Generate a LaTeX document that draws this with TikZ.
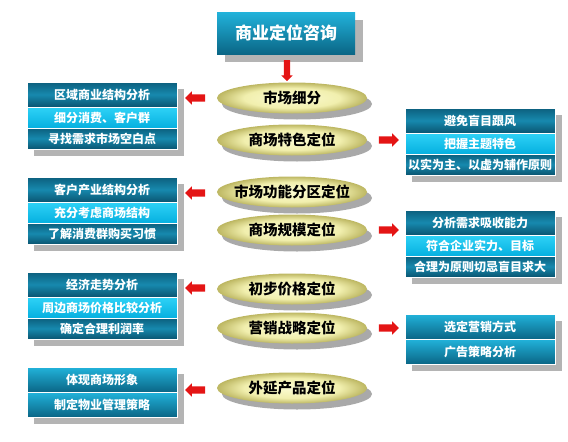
\documentclass[tikz,border=0pt]{standalone}
\usepackage{fontspec}
\newfontfamily\cjk{Noto Sans CJK SC}
\usepackage{xcolor}
\usepackage{tikz}
\usetikzlibrary{shapes,arrows,positioning,shadows}
\definecolor{tealtop}{HTML}{0C5F7D}
\definecolor{tealmid}{HTML}{1789AE}
\definecolor{tealbot}{HTML}{0A5571}
\definecolor{cyantop}{HTML}{2FD2F6}
\definecolor{cyanbot}{HTML}{05B0E0}
\definecolor{lighttop}{HTML}{22B3DB}
\definecolor{lightbot}{HTML}{0A6686}
\definecolor{ellin}{HTML}{FBFBD2}
\definecolor{ellmid}{HTML}{F1EFAE}
\definecolor{ellout}{HTML}{BDB762}
\definecolor{boxshadow}{HTML}{B4B4B4}
\definecolor{ellshadow}{HTML}{A9A9A9}
\definecolor{arrowred}{HTML}{E41515}
\pgfdeclareradialshading{ellshade}{\pgfpoint{0bp}{0bp}}{color(0bp)=(ellin); color(16bp)=(ellmid); color(25bp)=(ellout); color(50bp)=(ellout)}

\begin{document}
\begin{tikzpicture}[x=1pt,y=-1pt,
	row/.style={rectangle,minimum width=150pt,inner sep=1pt,outer sep=0pt,draw=white,line width=0.8pt,text=white,font=\cjk\bfseries\fontsize{12}{12}\selectfont,drop shadow={shadow xshift=7pt,shadow yshift=-7pt,fill=boxshadow,opacity=1}},
	rowdark/.style={row,minimum height=21pt,top color=tealtop,bottom color=tealbot,middle color=tealmid},
	rowfirst/.style={rowdark,minimum height=25pt},
	rowcyan/.style={row,minimum height=21pt,top color=cyantop,bottom color=cyanbot},
	rowlight/.style={row,minimum height=25pt,top color=lighttop,bottom color=lightbot},
	ell/.style={ellipse,minimum width=150pt,minimum height=31pt,inner sep=0pt,shading=ellshade,font=\cjk\bfseries\fontsize{14.5}{14.5}\selectfont,drop shadow={shadow xshift=5pt,shadow yshift=-6pt,fill=ellshadow,opacity=1}},
	redarrow/.style={single arrow,fill=arrowred,draw=none,minimum height=20pt,inner xsep=0pt,inner ysep=3.5pt,single arrow head extend=3pt},
	leftarrow/.style={redarrow,shape border rotate=180}]
		\useasboundingbox (0,0) rectangle (568,442);
		\node[rectangle,minimum width=138pt,minimum height=42pt,top color=lighttop,bottom color=lightbot,text=white,font=\cjk\bfseries\fontsize{17}{17}\selectfont,drop shadow={shadow xshift=8pt,shadow yshift=-8pt,fill=boxshadow,opacity=1}] (title) at (286,33) {商业定位咨询};
		\node[redarrow,shape border rotate=270,minimum height=21pt,inner sep=3pt,single arrow head extend=2.5pt] (down) at (287,69) {};
		\node[ell] (e1) at (292,98) {\makebox[0pt]{市场细分}};
		\node[ell] (e2) at (292,140) {\makebox[0pt]{商场特色定位}};
		\node[ell] (e3) at (292,192) {\makebox[0pt]{市场功能分区定位}};
		\node[ell] (e4) at (292,230) {\makebox[0pt]{商场规模定位}};
		\node[ell] (e5) at (292,289) {\makebox[0pt]{初步价格定位}};
		\node[ell] (e6) at (292,328) {\makebox[0pt]{营销战略定位}};
		\node[ell] (e7) at (292,388) {\makebox[0pt]{外延产品定位}};
		\node[rowfirst] (b1a) at (102,94.5) {区域商业结构分析};
		\node[rowcyan,below=0pt of b1a] (b1b) {细分消费、客户群};
		\node[rowdark,below=0pt of b1b] (b1c) {寻找需求市场空白点};
		\node[rowfirst] (b2a) at (102,189.5) {客户产业结构分析};
		\node[rowcyan,below=0pt of b2a] (b2b) {充分考虑商场结构};
		\node[rowdark,below=0pt of b2b] (b2c) {了解消费群购买习惯};
		\node[rowfirst] (b3a) at (102,284.5) {经济走势分析};
		\node[rowcyan,below=0pt of b3a] (b3b) {周边商场价格比较分析};
		\node[rowdark,below=0pt of b3b] (b3c) {确定合理利润率};
		\node[rowlight] (b4a) at (102,379.5) {体现商场形象};
		\node[rowlight,below=0pt of b4a] (b4b) {制定物业管理策略};
		\node[rowfirst] (r1a) at (480,120.5) {避免盲目跟风};
		\node[rowcyan,below=0pt of r1a] (r1b) {把握主题特色};
		\node[rowdark,below=0pt of r1b] (r1c) {以实为主、以虚为辅作原则};
		\node[rowfirst] (r2a) at (480,222.5) {分析需求吸收能力};
		\node[rowcyan,below=0pt of r2a] (r2b) {符合企业实力、目标};
		\node[rowdark,below=0pt of r2b] (r2c) {合理为原则切忌盲目求大};
		\node[rowlight] (r3a) at (480,326.5) {选定营销方式};
		\node[rowlight,below=0pt of r3a] (r3b) {广告策略分析};
		\node[leftarrow] (la1) at (197,98) {};
		\node[leftarrow] (la2) at (197,193) {};
		\node[leftarrow] (la3) at (197,288) {};
		\node[leftarrow] (la4) at (197,390) {};
		\node[redarrow] (ra1) at (387,140) {};
		\node[redarrow] (ra2) at (387,230) {};
		\node[redarrow] (ra3) at (387,328) {};
	\end{tikzpicture}
\end{document}
